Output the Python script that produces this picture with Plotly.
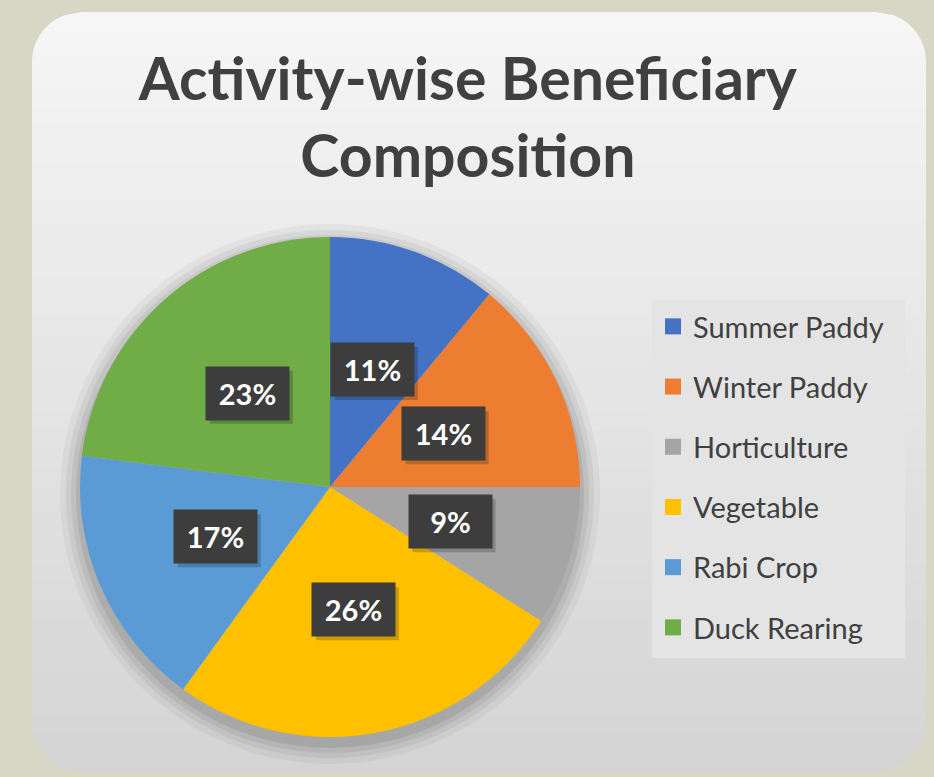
import math
import plotly.graph_objects as go

# ---- data ----
categories = ["Summer Paddy", "Winter Paddy", "Horticulture", "Vegetable", "Rabi Crop", "Duck Rearing"]
values = [11, 14, 9, 26, 17, 23]
colors = ["#4472C4", "#ED7D31", "#A5A5A5", "#FFC000", "#5B9BD5", "#70AD47"]
title_text = "Activity-wise Beneficiary<br>Composition"

W, H = 934, 777
FONT = "Lato"

def px(x):
    return x / W

def py(y):
    return 1 - y / H

# ---- pie geometry (pixels) ----
CX, CY, RAD = 330, 487, 250

fig = go.Figure()

fig.add_trace(go.Pie(
    labels=categories,
    values=values,
    marker=dict(colors=colors, line=dict(width=0)),
    sort=False,
    direction="clockwise",
    rotation=0,
    textinfo="none",
    hoverinfo="label+percent",
    showlegend=False,
    domain=dict(x=[px(CX - RAD), px(CX + RAD)], y=[py(CY + RAD), py(CY - RAD)]),
))

# legend via marker-only traces
for cat, col in zip(categories, colors):
    fig.add_trace(go.Scatter(
        x=[None], y=[None], mode="markers", name=cat, legendgroup=cat,
        marker=dict(symbol="square", size=17, color=col),
        hoverinfo="skip",
    ))

shapes = []

# ---- panel with vertical gradient ----
PL, PR, PT, PB, PRAD = 32, 926, 12, 772, 50

def bounds(y):
    if y < PT + PRAD:
        d = PRAD - math.sqrt(max(PRAD**2 - (PT + PRAD - y) ** 2, 0))
    elif y > PB - PRAD:
        d = PRAD - math.sqrt(max(PRAD**2 - (y - (PB - PRAD)) ** 2, 0))
    else:
        d = 0
    return PL + d, PR - d

NB = 40
top_c = (246, 246, 246)
bot_c = (212, 212, 212)
for i in range(NB):
    y0 = PT + (PB - PT) * i / NB
    y1 = PT + (PB - PT) * (i + 1) / NB + 0.6
    y1 = min(y1, PB)
    ys = [y0 + (y1 - y0) * k / 6 for k in range(7)]
    left = [(bounds(y)[0], y) for y in ys]
    right = [(bounds(y)[1], y) for y in reversed(ys)]
    pts = left + right
    path = "M " + " L ".join(f"{px(x):.5f},{py(y):.5f}" for x, y in pts) + " Z"
    t = (i + 0.5) / NB
    c = tuple(int(round(top_c[j] + (bot_c[j] - top_c[j]) * t)) for j in range(3))
    shapes.append(dict(type="path", path=path, xref="paper", yref="paper",
                       fillcolor=f"rgb{c}", line=dict(width=0), layer="below"))

# ---- soft shadow behind pie ----
for grow, op in [(20, 0.04), (14, 0.05), (9, 0.06), (4, 0.08)]:
    r = RAD + grow
    oy = 7
    shapes.append(dict(type="circle", xref="paper", yref="paper",
                       x0=px(CX - r), x1=px(CX + r), y0=py(CY + oy + r), y1=py(CY + oy - r),
                       fillcolor=f"rgba(0,0,0,{op})", line=dict(width=0), layer="below"))

# ---- legend background ----
shapes.append(dict(type="rect", xref="paper", yref="paper",
                   x0=px(652), x1=px(905), y0=py(658), y1=py(300),
                   fillcolor="#e4e4e4", line=dict(width=0), layer="below"))

# ---- data labels (computed from values) ----
annotations = []
total = sum(values)
cum = 0
BW, BH = 83, 53
for v in values:
    mid = (cum + v / 2) / total * 2 * math.pi
    cum += v
    lx = CX + 0.5 * RAD * math.sin(mid)
    ly = CY - 0.5 * RAD * math.cos(mid)
    pct = f"{round(100 * v / total)}%"
    # box shadow (shape, drawn above the pie, below the label)
    sx, sy = lx + 4, ly + 4
    shapes.append(dict(type="rect", xref="paper", yref="paper",
                       x0=px(sx - BW / 2), x1=px(sx + BW / 2),
                       y0=py(sy + BH / 2), y1=py(sy - BH / 2),
                       fillcolor="rgba(0,0,0,0.20)", line=dict(width=0), layer="above"))
    annotations.append(dict(x=px(lx), y=py(ly), xref="paper", yref="paper",
                            xanchor="center", yanchor="middle",
                            text=f"<b>{pct}</b>", showarrow=False,
                            width=BW - 12, height=BH - 12, borderpad=6,
                            font=dict(family=FONT, size=29, color="white"),
                            bgcolor="#3d3d3d"))

fig.update_layout(
    width=W, height=H,
    margin=dict(l=0, r=0, t=0, b=0),
    paper_bgcolor="#d8d7c5",
    plot_bgcolor="rgba(0,0,0,0)",
    xaxis=dict(visible=False),
    yaxis=dict(visible=False),
    title=dict(text=f"<b>{title_text}</b>", x=0.501, xanchor="center",
               y=py(100), yanchor="middle",
               font=dict(family=FONT, size=59, color="#404040")),
    showlegend=True,
    legend=dict(x=px(653), y=py(301), xanchor="left", yanchor="top",
                bgcolor="rgba(0,0,0,0)", font=dict(family=FONT, size=29, color="#404040"),
                tracegroupgap=19.5, itemclick=False, itemdoubleclick=False),
    shapes=shapes,
    annotations=annotations,
)

fig.write_html("out.html", config={"displayModeBar": False},
               post_script="document.body.style.margin='0';")
